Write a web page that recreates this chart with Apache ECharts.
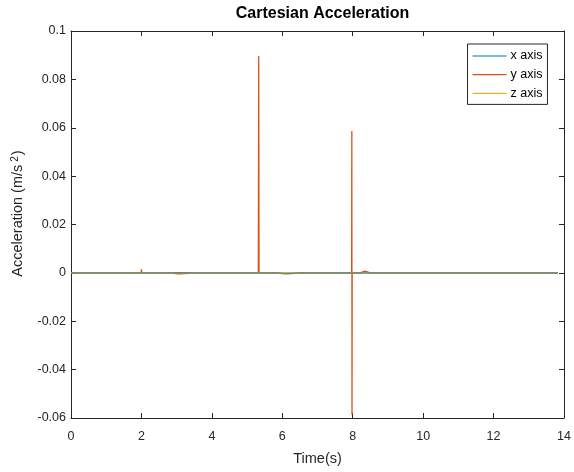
<!DOCTYPE html>
<html>
<head>
<meta charset="utf-8">
<script src="https://cdn.jsdelivr.net/npm/echarts@6/dist/echarts.min.js"></script>
<style>
  html, body { margin: 0; padding: 0; background: #fff; }
  #chart { width: 574px; height: 472px; }
</style>
</head>
<body>
<div id="chart"></div>
<script>
// Time stamps (s) and accelerations (m/s^2) for each Cartesian component
const timeX = [0, 1, 2, 3, 4, 5, 5.45, 5.5, 5.55, 5.65, 5.7, 5.75, 5.85, 5.9, 6.1, 6.15, 6.5, 7, 8, 9, 10, 11, 12, 13, 13.83];
const accX  = [0, 0, 0, 0, 0, 0, 0, -0.0005, 0, 0, -0.0004, 0, 0, -0.0005, -0.0005, 0, 0, 0, 0, 0, 0, 0, 0, 0, 0];

const timeY = [0, 1, 1.99, 2.0, 2.01, 2.5, 3, 4, 5, 5.32, 5.33, 5.34, 6, 7, 7.97, 7.975, 7.98, 7.985, 8.1, 8.2, 8.22, 8.35, 8.37, 8.5, 9, 10, 11, 12, 13, 13.83];
const accY  = [0, 0, 0, 0.0015, 0, 0, 0, 0, 0, 0, 0.0897, 0, 0, 0, 0, 0.0587, -0.0587, 0, 0, 0, 0.0007, 0.0007, 0, 0, 0, 0, 0, 0, 0, 0];

const timeZ = [0, 1, 2, 2.85, 2.9, 3.05, 3.1, 3.5, 4, 5, 6, 7, 8, 9, 10, 11, 12, 13, 13.83];
const accZ  = [0, 0, 0, 0, -0.0006, -0.0006, 0, 0, 0, 0, 0, 0, 0, 0, 0, 0, 0, 0, 0];

const seriesNames = ['x axis', 'y axis', 'z axis'];
const seriesColors = ['#0072BD', '#D95319', '#EDB120'];

const xTicks = { min: 0, max: 14, interval: 2 };
const yTicks = { min: -0.06, max: 0.1, interval: 0.02 };

const pairs = (t, v) => t.map((ti, i) => [ti, v[i]]);

const axisColor = '#262626';
const font = 'Liberation Sans, Arial, Helvetica, sans-serif';

const chart = echarts.init(document.getElementById('chart'), null, { renderer: 'canvas' });

function fmtY(v) {
  return String(parseFloat(v.toFixed(2)));
}

const baseAxis = {
  axisLine: { show: true, onZero: false, lineStyle: { color: axisColor, width: 1 } },
  axisTick: { show: true, inside: true, length: 5, lineStyle: { color: axisColor } },
  splitLine: { show: false }
};

chart.setOption({
  animation: false,
  backgroundColor: '#fff',
  title: {
    text: 'Cartesian Acceleration',
    left: 317.5,
    textAlign: 'center',
    top: 1,
    textStyle: { fontFamily: font, fontSize: 16, fontWeight: 'bold', color: '#000' }
  },
  grid: { left: 71, right: 10, top: 31, bottom: 54, containLabel: false },
  legend: {
    orient: 'vertical',
    left: 467.5,
    top: 44,
    data: seriesNames,
    icon: 'rect',
    itemWidth: 34,
    itemHeight: 1.2,
    itemGap: 4.7,
    padding: [5, 5, 4, 5],
    borderColor: axisColor,
    borderWidth: 1,
    borderRadius: 0,
    backgroundColor: '#fff',
    textStyle: { fontFamily: font, fontSize: 12.5, color: '#000', lineHeight: 14, padding: [0, 0, 0, -1] }
  },
  xAxis: [
    Object.assign({}, baseAxis, {
      type: 'value', position: 'bottom',
      min: xTicks.min, max: xTicks.max, interval: xTicks.interval,
      name: 'Time(s)', nameLocation: 'middle', nameGap: 33,
      nameTextStyle: { fontFamily: font, fontSize: 14.5, color: axisColor },
      axisLabel: { fontFamily: font, fontSize: 12.5, color: axisColor, margin: 12 }
    }),
    Object.assign({}, baseAxis, {
      type: 'value', position: 'top',
      min: xTicks.min, max: xTicks.max, interval: xTicks.interval,
      axisLabel: { show: false }
    })
  ],
  yAxis: [
    Object.assign({}, baseAxis, {
      type: 'value', position: 'left',
      min: yTicks.min, max: yTicks.max, interval: yTicks.interval,
      name: '{a|Acceleration (m/s}{s|2}{a|)}', nameLocation: 'middle', nameGap: 46,
      nameTextStyle: {
        fontFamily: font, fontSize: 14.5, color: axisColor,
        padding: [0, 0, 0, 22],
        rich: {
          a: { fontFamily: font, fontSize: 14.5, color: axisColor },
          s: { fontFamily: font, fontSize: 10, color: axisColor, verticalAlign: 'top', padding: [0, 1, 0, 3] }
        }
      },
      axisLabel: { fontFamily: font, fontSize: 12.5, color: axisColor, margin: 5, formatter: fmtY }
    }),
    Object.assign({}, baseAxis, {
      type: 'value', position: 'right',
      min: yTicks.min, max: yTicks.max, interval: yTicks.interval,
      axisLabel: { show: false }
    })
  ],
  series: [
    {
      name: seriesNames[1], type: 'line', data: pairs(timeY, accY),
      showSymbol: false, symbol: 'none', z: 2,
      color: seriesColors[1], lineStyle: { width: 1.3, color: seriesColors[1] }
    },
    {
      name: seriesNames[2], type: 'line', data: pairs(timeZ, accZ),
      showSymbol: false, symbol: 'none', z: 3,
      color: seriesColors[2], lineStyle: { width: 1.5, color: seriesColors[2] }
    },
    {
      name: seriesNames[0], type: 'line', data: pairs(timeX, accX),
      showSymbol: false, symbol: 'none', z: 4,
      color: seriesColors[0], lineStyle: { width: 1.5, color: seriesColors[0], opacity: 0.6 }
    }
  ]
});
</script>
</body>
</html>
